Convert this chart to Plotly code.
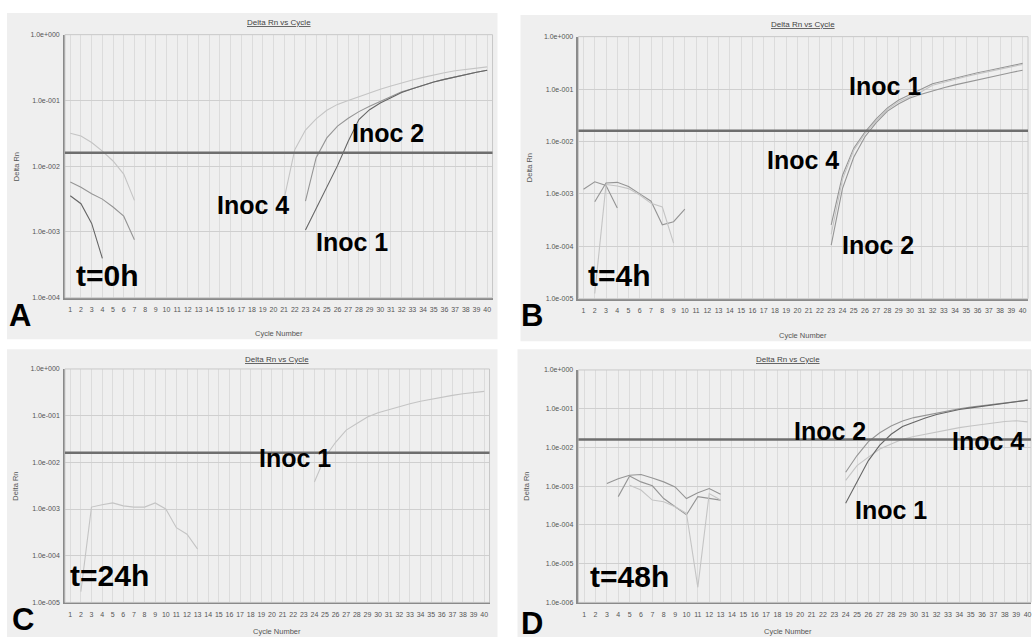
import plotly.graph_objects as go

W, H = 1032, 640

# ---------------- data (Delta Rn per cycle) ----------------
threshold = 0.016

# Panel A  (t=0h)
a_noise1_cyc = [1, 2, 3, 4, 5, 6, 7]
a_noise1_val = [0.0316, 0.0288, 0.0229, 0.0170, 0.0120, 0.00759, 0.00302]
a_noise2_cyc = [1, 2, 3, 4, 5, 6, 7]
a_noise2_val = [0.00575, 0.00479, 0.00380, 0.00316, 0.00240, 0.00174, 0.000759]
a_noise3_cyc = [1, 2, 3, 4]
a_noise3_val = [0.00355, 0.00269, 0.00135, 0.000398]
a_inoc4_cyc = list(range(21, 41))
a_inoc4_val = [0.00316, 0.0178, 0.0355, 0.0525, 0.0708, 0.0871, 0.100, 0.115, 0.132, 0.148,
               0.166, 0.186, 0.204, 0.224, 0.245, 0.263, 0.282, 0.295, 0.309, 0.324]
a_inoc2_cyc = list(range(23, 41))
a_inoc2_val = [0.00295, 0.0135, 0.0269, 0.0407, 0.0537, 0.0676, 0.0813, 0.0955, 0.112, 0.135,
               0.151, 0.170, 0.191, 0.209, 0.229, 0.251, 0.269, 0.288]
a_inoc1_cyc = list(range(23, 41))
a_inoc1_val = [0.00107, 0.00224, 0.00479, 0.0102, 0.0240, 0.0513, 0.0724, 0.0912, 0.110, 0.132,
               0.151, 0.170, 0.191, 0.209, 0.229, 0.251, 0.269, 0.288]

# Panel B  (t=4h)
b_noise1_cyc = [1, 2, 3, 4]
b_noise1_val = [0.00123, 0.00170, 0.00145, 0.000537]
b_noise2_cyc = [2, 3, 4, 5, 6, 7, 8, 9, 10]
b_noise2_val = [0.000708, 0.00162, 0.00166, 0.00138, 0.00100, 0.000724, 0.000257, 0.000295, 0.000513]
b_noise3_cyc = [3, 4, 5, 6, 7, 8, 9]
b_noise3_val = [0.00151, 0.00141, 0.00126, 0.000955, 0.000661, 0.000562, 0.000115]
b_noise4_cyc = [2, 3]
b_noise4_val = [1.26e-5, 0.00151]
b_inoc1_cyc = list(range(23, 41))
b_inoc1_val = [0.000257, 0.00224, 0.00741, 0.0151, 0.0269, 0.0437, 0.0617, 0.0776, 0.100, 0.126,
               0.143, 0.162, 0.182, 0.204, 0.226, 0.251, 0.279, 0.309]
b_inoc4_cyc = list(range(23, 41))
b_inoc4_val = [0.00017, 0.0019, 0.0068, 0.0141, 0.0251, 0.0407, 0.0575, 0.0724, 0.0891, 0.118,
               0.135, 0.155, 0.174, 0.195, 0.216, 0.240, 0.265, 0.295]
b_inoc2_cyc = list(range(23, 41))
b_inoc2_val = [0.000105, 0.00126, 0.00501, 0.0123, 0.0229, 0.0380, 0.0525, 0.0676, 0.0794, 0.0933,
               0.106, 0.120, 0.135, 0.151, 0.168, 0.186, 0.207, 0.229]

# Panel C  (t=24h)
c_noise_cyc = [2, 3, 4, 5, 6, 7, 8, 9, 10, 11, 12, 13]
c_noise_val = [1.7e-5, 0.00110, 0.00123, 0.00135, 0.00117, 0.00110, 0.00110, 0.00135, 0.00100,
               0.000398, 0.000288, 0.000138]
c_inoc1_cyc = list(range(24, 41))
c_inoc1_val = [0.00380, 0.0129, 0.0269, 0.0490, 0.0676, 0.0933, 0.115, 0.135, 0.158, 0.180,
               0.204, 0.226, 0.251, 0.272, 0.295, 0.313, 0.331]

# Panel D  (t=48h)
d_noise1_cyc = [3, 4, 5, 6, 7, 8, 9, 10, 11, 12, 13]
d_noise1_val = [0.00117, 0.00155, 0.00191, 0.00200, 0.00162, 0.00129, 0.000955, 0.000479,
                0.000676, 0.000871, 0.000617]
d_noise2_cyc = [4, 5, 6, 7, 8, 9, 10, 11, 12, 13]
d_noise2_val = [0.000537, 0.00182, 0.00129, 0.00102, 0.000479, 0.000295, 0.000182, 0.000537,
                0.000490, 0.000437]
d_noise3_cyc = [5, 6, 7, 8, 9, 10, 11, 12, 13]
d_noise3_val = [0.00105, 0.000794, 0.000437, 0.000398, 0.000295, 0.000200, 2.45e-6, 0.000646,
                0.000437]
d_inoc2_cyc = list(range(24, 41))
d_inoc2_val = [0.00229, 0.00617, 0.0141, 0.0240, 0.0355, 0.0479, 0.0589, 0.0676, 0.0776, 0.0891,
               0.100, 0.110, 0.120, 0.130, 0.141, 0.153, 0.166]
d_inoc4_cyc = list(range(24, 41))
d_inoc4_val = [0.00141, 0.00339, 0.00562, 0.00912, 0.0123, 0.0162, 0.0191, 0.0219, 0.0251, 0.0285,
               0.0324, 0.0359, 0.0398, 0.0432, 0.0468, 0.0490, 0.0457]
d_inoc1_cyc = list(range(24, 41))
d_inoc1_val = [0.000363, 0.00129, 0.00457, 0.0115, 0.0219, 0.0347, 0.0457, 0.0575, 0.0708, 0.0832,
               0.0955, 0.105, 0.115, 0.127, 0.141, 0.153, 0.166]

cycle_ticks = list(range(1, 41))
y_tick_exps = {"A": [-4, -3, -2, -1, 0], "B": [-5, -4, -3, -2, -1, 0],
               "C": [-5, -4, -3, -2, -1, 0], "D": [-6, -5, -4, -3, -2, -1, 0]}

# ---------------- layout helpers ----------------
LIGHT, MID, DARK = "#c4c4c4", "#959595", "#666666"


def px(x, y):
    return x / W, 1 - y / H


panels = {
    "A": dict(sfx="", box=(7, 9, 498, 339), plot=(65, 31, 493, 297), xr=[0.5, 40.5], xt=333),
    "B": dict(sfx="2", box=(521, 11, 1032, 341), plot=(579, 33, 1029, 298), xr=[0.55, 40.48], xt=335),
    "C": dict(sfx="3", box=(7, 349, 498, 640), plot=(65, 369, 490, 605), xr=[0.5, 40.5], xt=634),
    "D": dict(sfx="4", box=(518, 349, 1032, 640), plot=(579, 370, 1032, 605), xr=[0.5, 40.3], xt=634),
}

series = {
    "A": [(a_noise1_cyc, a_noise1_val, LIGHT), (a_noise2_cyc, a_noise2_val, MID),
          (a_noise3_cyc, a_noise3_val, DARK), (a_inoc4_cyc, a_inoc4_val, LIGHT),
          (a_inoc2_cyc, a_inoc2_val, MID), (a_inoc1_cyc, a_inoc1_val, DARK)],
    "B": [(b_noise1_cyc, b_noise1_val, MID), (b_noise2_cyc, b_noise2_val, MID),
          (b_noise3_cyc, b_noise3_val, LIGHT), (b_noise4_cyc, b_noise4_val, LIGHT),
          (b_inoc1_cyc, b_inoc1_val, MID), (b_inoc4_cyc, b_inoc4_val, LIGHT),
          (b_inoc2_cyc, b_inoc2_val, MID)],
    "C": [(c_noise_cyc, c_noise_val, LIGHT), (c_inoc1_cyc, c_inoc1_val, LIGHT)],
    "D": [(d_noise1_cyc, d_noise1_val, MID), (d_noise2_cyc, d_noise2_val, MID),
          (d_noise3_cyc, d_noise3_val, LIGHT), (d_inoc2_cyc, d_inoc2_val, MID),
          (d_inoc4_cyc, d_inoc4_val, LIGHT), (d_inoc1_cyc, d_inoc1_val, DARK)],
}

labels = {
    "A": [("t=0h", 108, 273, 30), ("Inoc 4", 253, 201, 25), ("Inoc 2", 388, 128, 25),
          ("Inoc 1", 352, 239, 25)],
    "B": [("t=4h", 620, 273, 30), ("Inoc 1", 886, 81, 25), ("Inoc 4", 804, 156, 25),
          ("Inoc 2", 879, 242, 25)],
    "C": [("t=24h", 110, 576, 30), ("Inoc 1", 295, 457, 25)],
    "D": [("t=48h", 630, 577, 30), ("Inoc 2", 831, 430, 25), ("Inoc 4", 989, 440, 25),
          ("Inoc 1", 892, 510, 25)],
}
letters = [("A", 20, 313), ("B", 533, 313), ("C", 23, 620), ("D", 533, 624)]

fig = go.Figure()
shapes, annotations = [], []
layout = dict(width=W, height=H, margin=dict(l=0, r=0, t=0, b=0),
              paper_bgcolor="white", plot_bgcolor="white", showlegend=False)

for key, p in panels.items():
    sfx = p["sfx"]
    bx0, by0, bx1, by1 = p["box"]
    x0, y0, x1, y1 = p["plot"]
    shapes.append(dict(type="rect", xref="paper", yref="paper", layer="below",
                       x0=bx0 / W, x1=bx1 / W, y0=1 - by1 / H, y1=1 - by0 / H,
                       fillcolor="#efefef", line=dict(width=0)))
    exps = y_tick_exps[key]
    tickvals = [10.0 ** e for e in exps]
    ticktext = ["1.0e%s%03d" % ("+" if e >= 0 else "-", abs(e)) for e in exps]
    layout["xaxis" + sfx] = dict(
        domain=[x0 / W, x1 / W], range=p["xr"], anchor="y" + sfx,
        tickmode="array", tickvals=cycle_ticks, ticktext=[str(c) for c in cycle_ticks],
        showgrid=True, gridcolor="#dcdcdc", gridwidth=1, zeroline=False,
        showline=True, linecolor="#8a8a8a", linewidth=1.5, mirror=False,
        ticks="outside", ticklen=4, tickcolor="rgba(0,0,0,0)", ticklabeloverflow="allow",
        tickfont=dict(family="Liberation Sans", size=7, color="#555"))
    layout["yaxis" + sfx] = dict(
        domain=[1 - y1 / H, 1 - y0 / H], type="log", range=[exps[0], exps[-1]],
        anchor="x" + sfx, tickmode="array", tickvals=tickvals, ticktext=ticktext,
        showgrid=True, gridcolor="#cfcfcf", gridwidth=1.2, zeroline=False,
        showline=True, linecolor="#8a8a8a", linewidth=1.5,
        ticks="outside", ticklen=2, tickcolor="rgba(0,0,0,0)", ticklabeloverflow="allow",
        tickfont=dict(family="Liberation Sans", size=7, color="#555"))
    shapes.append(dict(type="rect", xref="x%s domain" % sfx, yref="y%s domain" % sfx,
                       x0=0, x1=1, y0=0, y1=1, line=dict(color="#c8c8c8", width=1)))
    shapes.append(dict(type="line", xref="x%s domain" % sfx, yref="y" + sfx,
                       x0=0, x1=1, y0=threshold, y1=threshold,
                       line=dict(color="#6e6e6e", width=2.5)))
    for cyc, val, col in series[key]:
        fig.add_trace(go.Scatter(x=cyc, y=val, mode="lines", xaxis="x" + sfx, yaxis="y" + sfx,
                                 line=dict(color=col, width=1.1), hoverinfo="skip"))
    cx = (x0 + x1) / 2 if key != "D" else 789
    tx, ty = px(cx, by0 + 10)
    annotations.append(dict(text="<u>Delta Rn vs Cycle</u>", x=tx, y=ty, xref="paper",
                            yref="paper", showarrow=False, xanchor="center", yanchor="middle",
                            font=dict(family="Liberation Sans", size=8, color="#444")))
    tx, ty = px(cx, p["xt"])
    annotations.append(dict(text="Cycle Number", x=tx, y=ty, xref="paper", yref="paper",
                            showarrow=False, xanchor="center", yanchor="middle",
                            font=dict(family="Liberation Sans", size=7.5, color="#555")))
    tx, ty = px(bx0 + 9, (y0 + y1) / 2)
    annotations.append(dict(text="Delta Rn", x=tx, y=ty, xref="paper", yref="paper",
                            showarrow=False, textangle=-90, xanchor="center", yanchor="middle",
                            font=dict(family="Liberation Sans", size=7.5, color="#555")))
    for text, lx, ly, sz in labels[key]:
        tx, ty = px(lx, ly + 2)
        annotations.append(dict(text="<b>%s</b>" % text, x=tx, y=ty, xref="paper",
                                yref="paper", showarrow=False, xanchor="center",
                                yanchor="middle",
                                font=dict(family="Liberation Sans", size=sz, color="black")))

for text, lx, ly in letters:
    tx, ty = px(lx, ly + 2)
    annotations.append(dict(text="<b>%s</b>" % text, x=tx, y=ty, xref="paper", yref="paper",
                            showarrow=False, xanchor="center", yanchor="middle",
                            font=dict(family="Liberation Sans", size=31, color="black")))

layout["shapes"] = shapes
layout["annotations"] = annotations
fig.update_layout(**layout)
fig.write_html("out.html")
